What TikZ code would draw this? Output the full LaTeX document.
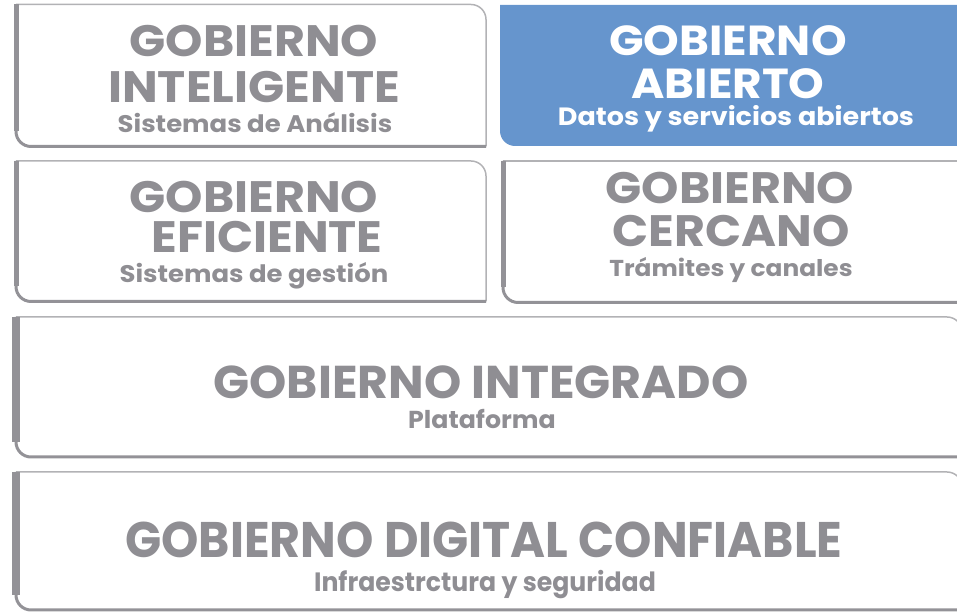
\documentclass[tikz,border=0pt]{standalone}
\usepackage{fontspec}
\setmainfont{Poppins}
\newfontfamily\breit[FakeStretch=1.08]{Poppins}
\newfontfamily\mittel[FakeStretch=1.03]{Poppins}
\newfontfamily\schmal[FakeStretch=0.95]{Poppins}
\definecolor{textgrau}{HTML}{8F8E93}
\definecolor{randgrau}{HTML}{939297}
\definecolor{hellgrau}{HTML}{B2B2B5}
\definecolor{blau}{HTML}{6695CD}
\begin{document}
\begin{tikzpicture}[
    x=1pt, y=1pt,
    duenn/.style={draw=hellgrau, line width=1.5pt},
    schatten/.style={draw=randgrau, line width=3pt},
    balken/.style={draw=randgrau, line width=5pt},
    titel/.style={anchor=base, inner sep=0pt, text depth=0pt, text=textgrau, font=\breit\bfseries\fontsize{44}{44}\selectfont},
    sub/.style={anchor=base, inner sep=0pt, text height=0.72em, text depth=0.15em, text=textgrau, font=\breit\bfseries\fontsize{24}{24}\selectfont}
]
    \clip (0,0) rectangle (957,612);

    % Kacheln
    \draw[duenn] (16,607.5) -- (471,607.5) arc[start angle=90, end angle=0, radius=15pt] -- (486,465.5);
    \draw[schatten] (16,607.5) -- (16,480.5) arc[start angle=180, end angle=270, radius=15pt] -- (486,465.5);
    \draw[balken] (16,607.5) -- (16,480.5);

    \fill[blau] (500,607) -- (957,607) -- (957,466) -- (515,466) arc[start angle=270, end angle=180, radius=15pt] -- cycle;

    \draw[duenn] (16,451) -- (471,451) arc[start angle=90, end angle=0, radius=15pt] -- (486,310.5);
    \draw[schatten] (16,451) -- (16,325.5) arc[start angle=180, end angle=270, radius=15pt] -- (486,310.5);
    \draw[balken] (16,451) -- (16,325.5);

    \draw[duenn] (503,451) -- (970,451);
    \draw[schatten] (503,451) -- (503,324.5) arc[start angle=180, end angle=270, radius=15pt] -- (970,309.5);
    \draw[balken] (503,451) -- (503,324.5);

    \draw[duenn] (16,295) -- (947,295) arc[start angle=90, end angle=0, radius=15pt] -- (962,155);
    \draw[schatten] (16,295) -- (16,170) arc[start angle=180, end angle=270, radius=15pt] -- (962,155);
    \draw[balken, line width=8pt] (16,295) -- (16,170);

    \draw[duenn] (16,140) -- (947,140) arc[start angle=90, end angle=0, radius=15pt] -- (962,2);
    \draw[schatten] (16,140) -- (16,17) arc[start angle=180, end angle=270, radius=15pt] -- (962,2);
    \draw[balken, line width=8pt] (16,140) -- (16,17);

    % Texte
    \node[titel] (intGob) at (254,555) {GOBIERNO};
    \node[titel] (intNombre) at (254,509) {INTELIGENTE};
    \node[sub] (intSub) at (255,479) {Sistemas de Análisis};

    \node[titel, text=white, font=\breit\bfseries\fontsize{42}{42}\selectfont] (abiGob) at (728,556) {GOBIERNO};
    \node[titel, text=white, font=\breit\bfseries\fontsize{42}{42}\selectfont] (abiNombre) at (728,513) {ABIERTO};
    \node[sub, font=\breit\bfseries\fontsize{25}{25}\selectfont, text=white] (abiSub) at (736,486) {Datos y servicios abiertos};

    \node[titel] (efiGob) at (254,399) {GOBIERNO};
    \node[titel] (efiNombre) at (267,359) {EFICIENTE};
    \node[sub] (efiSub) at (254,329) {Sistemas de gestión};

    \node[titel] (cerGob) at (730,408) {GOBIERNO};
    \node[titel] (cerNombre) at (731,365) {CERCANO};
    \node[sub, font=\breit\bfseries\fontsize{23}{23}\selectfont] (cerSub) at (731,335) {Trámites y canales};

    \node[titel, font=\mittel\bfseries\fontsize{46}{46}\selectfont] (integrado) at (481,213) {GOBIERNO INTEGRADO};
    \node[sub, font=\mittel\bfseries\fontsize{24.5}{24.5}\selectfont] (intgSub) at (482,183) {Plataforma};

    \node[titel, font=\schmal\bfseries\fontsize{50}{50}\selectfont] (confiable) at (484,54) {GOBIERNO DIGITAL CONFIABLE};
    \node[sub, font=\schmal\bfseries\fontsize{26.5}{26.5}\selectfont] (confSub) at (485,20) {Infraestrctura y seguridad};
\end{tikzpicture}
\end{document}
